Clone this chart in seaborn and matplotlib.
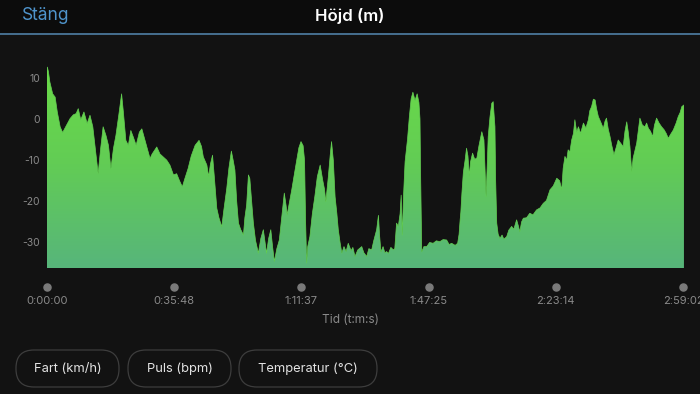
import numpy as np
import pandas as pd
import seaborn as sns
import matplotlib.pyplot as plt
from matplotlib.patches import FancyBboxPatch, Rectangle
from matplotlib.lines import Line2D
from matplotlib.colors import LinearSegmentedColormap
from matplotlib.transforms import blended_transform_factory

# elevation profile (time in minutes, height in m)
tid_min = [
    0.0, 0.1, 0.4, 0.8, 1.6, 2.3, 2.9, 3.7, 4.4, 5.5,
    6.5, 7.4, 8.2, 8.8, 9.5, 10.4, 11.3, 12.1, 12.9, 13.5,
    14.4, 15.1, 15.8, 16.6, 17.3, 18.0, 18.7, 19.4, 20.2, 21.0,
    21.5, 22.2, 22.9, 23.6, 24.3, 25.1, 26.0, 26.7, 27.6, 29.0,
    29.6, 30.9, 31.8, 32.7, 33.7, 34.6, 35.6, 36.5, 37.3, 38.1,
    38.8, 39.7, 40.6, 41.7, 42.8, 43.5, 44.0, 45.0, 45.5, 46.0,
    46.6, 47.1, 47.8, 48.4, 49.2, 49.8, 50.6, 51.2, 51.9, 52.4,
    52.9, 53.4, 53.9, 54.5, 55.3, 55.7, 56.2, 56.7, 57.1, 57.6,
    58.1, 58.7, 59.5, 60.2, 60.9, 61.4, 61.8, 62.4, 63.0, 63.5,
    64.0, 64.7, 65.4, 66.2, 66.8, 67.3, 67.6, 68.3, 68.9, 69.7,
    70.3, 70.9, 71.5, 72.1, 72.5, 72.8, 73.1, 73.4, 74.0, 74.7,
    75.4, 76.1, 76.9, 77.6, 78.1, 78.5, 79.2, 79.7, 80.1, 80.6,
    81.1, 81.6, 82.0, 82.5, 83.0, 83.6, 84.2, 84.8, 85.6, 86.1,
    86.7, 87.5, 88.6, 89.2, 90.0, 90.6, 91.4, 92.0, 92.8, 93.3,
    93.6, 94.0, 94.6, 95.1, 95.6, 96.1, 96.8, 97.5, 97.9, 98.4,
    98.9, 99.4, 99.7, 100.0, 100.4, 100.8, 101.5, 102.0, 102.5, 103.0,
    103.6, 104.2, 104.7, 105.0, 105.2, 105.5, 106.1, 106.9, 107.7, 108.7,
    109.6, 110.6, 111.5, 112.5, 113.2, 113.9, 114.9, 115.6, 116.0, 116.3,
    116.5, 116.8, 117.2, 117.7, 118.1, 118.5, 118.9, 119.2, 119.8, 120.4,
    121.0, 121.6, 122.4, 123.0, 123.3, 123.6, 123.9, 124.2, 124.7, 125.2,
    125.6, 126.1, 126.3, 126.6, 127.0, 127.5, 128.1, 128.6, 129.4, 130.0,
    130.8, 131.4, 132.2, 132.7, 133.1, 133.6, 134.1, 135.0, 135.9, 136.8,
    137.8, 138.8, 139.7, 140.6, 141.6, 142.5, 143.5, 144.3, 144.9, 145.3,
    145.8, 146.3, 146.7, 147.2, 147.7, 148.2, 148.6, 149.1, 149.6, 150.2,
    151.0, 151.7, 152.4, 152.8, 153.3, 153.8, 154.3, 154.7, 155.2, 155.9,
    156.6, 157.1, 157.5, 158.0, 158.5, 159.0, 159.6, 160.2, 160.8, 161.4,
    162.2, 162.7, 163.2, 163.6, 164.1, 164.6, 165.0, 166.0, 166.5, 166.9,
    167.6, 168.3, 168.8, 169.3, 169.9, 170.5, 171.0, 171.6, 172.3, 173.0,
    173.7, 174.3, 174.9, 175.5, 176.3, 177.1, 177.7, 178.2, 178.7, 179.3,
]
hojd_m = [
    12.2, 12.6, 11.5, 9.0, 6.1, 5.3, 1.7, -1.9, -3.3, -1.5,
    0.1, 1.0, 1.3, 2.5, -0.2, 1.7, -1.1, 0.9, -1.9, -6.4,
    -13.3, -7.2, -1.9, -4.0, -6.4, -12.1, -7.2, -4.0, 0.9, 6.1,
    1.7, -5.2, -6.4, -2.8, -4.4, -6.4, -3.2, -2.4, -5.2, -9.6,
    -8.5, -6.8, -8.5, -9.2, -10.0, -11.2, -13.6, -13.3, -15.0, -16.5,
    -14.5, -12.1, -9.0, -6.4, -5.2, -6.7, -9.2, -11.2, -14.0, -11.0,
    -8.8, -14.0, -21.7, -24.0, -26.2, -22.0, -16.9, -12.0, -7.8, -10.0,
    -12.4, -20.0, -25.3, -26.8, -28.2, -24.0, -20.9, -13.6, -14.5, -20.0,
    -25.3, -29.5, -32.6, -29.0, -26.9, -30.0, -32.6, -29.0, -26.9, -31.0,
    -34.6, -31.5, -29.4, -23.0, -18.0, -21.0, -23.3, -20.0, -17.2, -13.0,
    -10.0, -7.0, -5.5, -6.5, -10.0, -25.0, -35.0, -31.0, -28.6, -23.0,
    -18.8, -14.0, -11.2, -14.8, -17.0, -20.1, -14.0, -9.0, -5.5, -10.0,
    -18.9, -23.0, -26.9, -30.0, -32.6, -31.0, -32.2, -30.2, -32.0, -31.2,
    -33.4, -31.8, -31.0, -32.5, -33.4, -31.5, -31.8, -29.5, -26.9, -23.4,
    -28.0, -32.3, -31.0, -32.5, -32.2, -32.7, -31.2, -31.8, -31.5, -25.3,
    -26.1, -23.0, -18.5, -28.2, -18.0, -10.4, -4.8, 0.5, 4.9, 6.5,
    4.5, 6.1, 4.0, 0.0, -15.0, -32.3, -31.0, -31.0, -30.0, -30.2,
    -29.6, -29.8, -29.3, -29.4, -30.5, -30.2, -30.7, -30.2, -28.0, -24.5,
    -22.6, -18.0, -13.0, -10.0, -7.1, -9.0, -14.0, -10.5, -8.3, -9.8,
    -9.5, -6.5, -3.1, -5.1, -12.0, -18.9, -12.0, -4.3, 0.5, 3.8,
    4.2, -1.9, -15.0, -25.3, -28.0, -29.0, -28.2, -29.2, -28.6, -27.0,
    -26.1, -26.8, -24.5, -26.0, -27.4, -25.0, -24.1, -24.0, -22.9, -23.3,
    -22.1, -21.6, -20.5, -19.8, -17.2, -16.3, -14.4, -15.0, -17.2, -12.0,
    -9.1, -10.0, -7.5, -8.0, -5.1, -3.5, -0.2, -3.2, -1.9, -3.5,
    -1.0, -2.2, -0.2, 2.0, 3.0, 4.8, 4.6, 2.5, 0.6, -0.8,
    -2.3, -0.5, 0.2, -2.5, -4.3, -6.5, -8.7, -7.0, -5.1, -5.8,
    -6.7, -3.0, -0.7, -3.0, -6.7, -12.8, -9.5, -5.9, -2.5, 0.2,
    -1.5, -1.9, -1.0, -2.3, -3.0, -4.3, -1.5, 0.2, -1.0, -1.9,
    -2.6, -3.5, -4.7, -3.8, -2.7, -1.0, 0.6, 1.5, 3.0, 3.4,
]

y_ticks = [-30, -20, -10, 0, 10]
x_tick_sec = [0, 2148, 4297, 6445, 8594, 10742]
x_tick_labels = ["0:00:00", "0:35:48", "1:11:37", "1:47:25", "2:23:14", "2:59:02"]
knappar = ["Fart (km/h)", "Puls (bpm)", "Temperatur (°C)"]

BG = "#121212"
GRAY = "#8a8a8a"

sns.set_style("dark", {"axes.facecolor": BG, "figure.facecolor": BG})
plt.rcParams["font.family"] = ["Inter", "DejaVu Sans"]
plt.rcParams["axes.unicode_minus"] = False

df = pd.DataFrame({"tid": tid_min, "hojd": hojd_m})

fig = plt.figure(figsize=(7, 3.94), dpi=100, facecolor=BG)
ax = fig.add_axes([47 / 700, 126 / 394, 637.3 / 700, 206.7 / 394])
ax.set_facecolor(BG)

x_max, y_min, y_max = 179.4, -36.2, 14.0

# gradient fill under the profile
fill = ax.fill_between(df["tid"], df["hojd"], y_min - 5, facecolor="none", edgecolor="none")
cmap = LinearSegmentedColormap.from_list("hojd", ["#57b57b", "#62cc55", "#6bdc47"])
grad = np.linspace(1, 0, 256).reshape(-1, 1)
im = ax.imshow(grad, extent=[0, x_max, y_min, y_max], aspect="auto", cmap=cmap,
               origin="upper", zorder=1)
im.set_clip_path(fill.get_paths()[0], transform=ax.transData)

sns.lineplot(data=df, x="tid", y="hojd", ax=ax, color="#63cf52", linewidth=0.5, zorder=2)

ax.set_xlim(0, x_max)
ax.set_ylim(y_min, y_max)
ax.set_xlabel("")
ax.set_ylabel("")
for s in ax.spines.values():
    s.set_visible(False)
ax.grid(False)

ax.set_yticks(y_ticks)
ax.tick_params(axis="y", colors=GRAY, labelsize=7.5, length=0, pad=5)

tick_pos = [s / 60 for s in x_tick_sec]
ax.set_xticks(tick_pos)
ax.set_xticklabels(x_tick_labels)
ax.tick_params(axis="x", colors=GRAY, labelsize=8, length=0, pad=20)
trans = blended_transform_factory(ax.transData, ax.transAxes)
ax.scatter(tick_pos, [-0.092] * len(tick_pos), s=26, color="#7a7a7a",
           transform=trans, clip_on=False, zorder=3)

fig.text(0.5, 1 - 320 / 394, "Tid (t:m:s)", color=GRAY, fontsize=8.5,
         ha="center", va="center")

# header
fig.add_artist(Rectangle((0, 1 - 33 / 394), 1, 33 / 394, transform=fig.transFigure,
                         facecolor="#0c0c0c", edgecolor="none", zorder=0))
fig.add_artist(Line2D([0, 1], [1 - 33.8 / 394] * 2, transform=fig.transFigure,
                      color="#4f7fa5", linewidth=1.2))
fig.text(22 / 700, 1 - 16 / 394, "Stäng", color="#4f94cc", fontsize=12.5,
         ha="left", va="center")
fig.text(0.5, 1 - 16 / 394, "Höjd (m)", color="white", fontsize=12,
         fontweight="semibold", ha="center", va="center")

# buttons at the bottom
knapp_x = [(16, 119), (128, 231), (239, 377)]
for (x0, x1), namn in zip(knapp_x, knappar):
    box = FancyBboxPatch((x0 / 100, (394 - 387) / 100), (x1 - x0) / 100, 37 / 100,
                         boxstyle="round,pad=0,rounding_size=0.18",
                         transform=fig.dpi_scale_trans, facecolor="none",
                         edgecolor="#3d3d3d", linewidth=0.9)
    fig.add_artist(box)
    fig.text((x0 + x1) / 2 / 700, 1 - 368.5 / 394, namn, color="#e2e2e2",
             fontsize=9.3, ha="center", va="center")

fig.savefig("out.png", dpi=100, facecolor=BG)
